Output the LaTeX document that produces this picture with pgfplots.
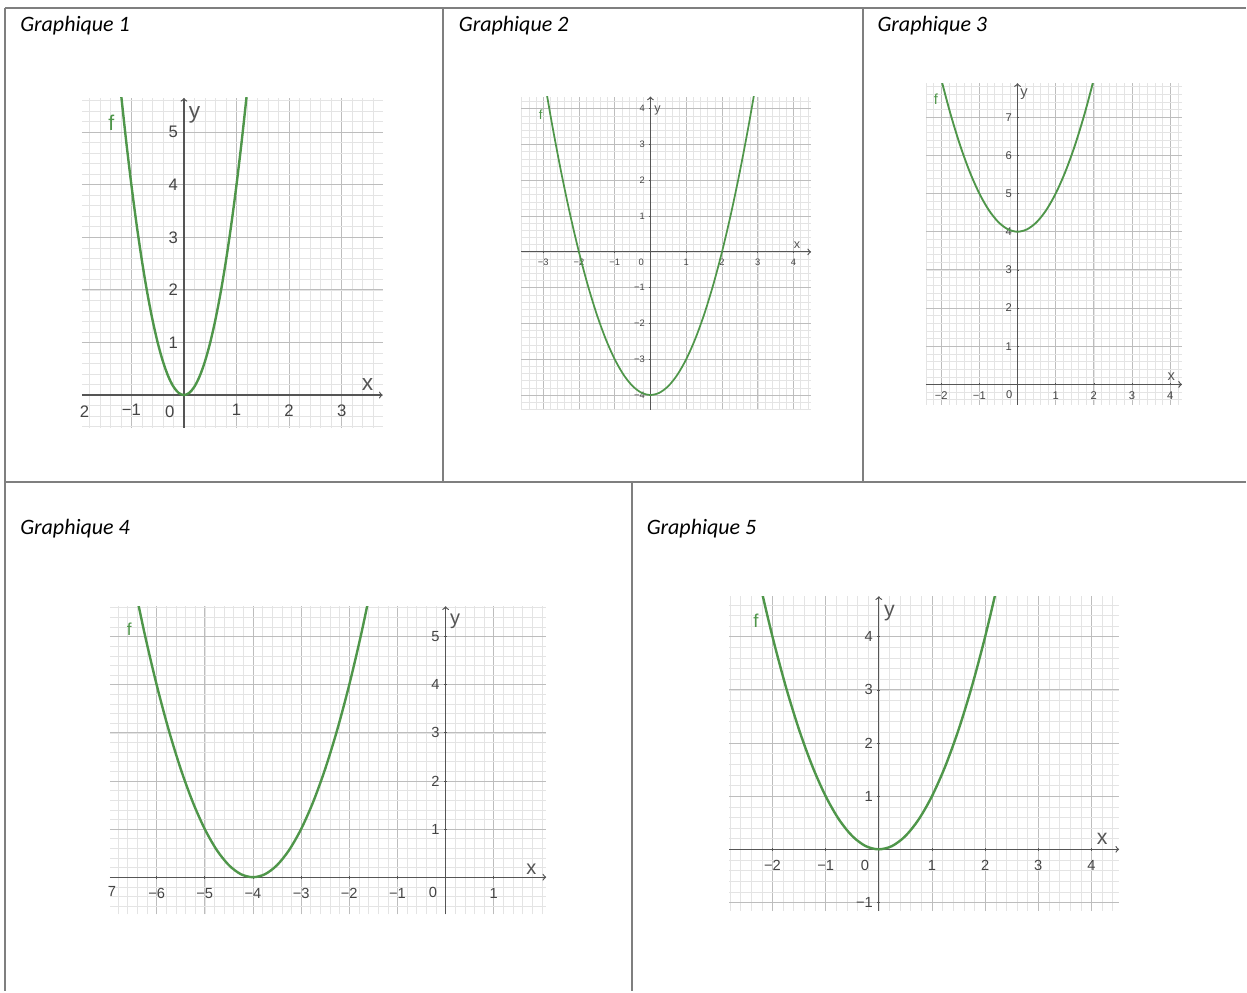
\documentclass[border=0pt]{standalone}
\usepackage{pgfplots}
\pgfplotsset{compat=1.18}
\usepackage{fontspec}
\setmainfont{Carlito}
\newfontfamily\geo{Liberation Sans}

\definecolor{tabline}{HTML}{7F7F7F}
\definecolor{axgray}{HTML}{555555}
\definecolor{majgray}{HTML}{BDBDBD}
\definecolor{mingray}{HTML}{E4E4E4}
\definecolor{lblgray}{HTML}{444444}
\definecolor{fgreen}{HTML}{4F964A}

\pgfplotsset{
  gg/.style={
    scale only axis, anchor=south west,
    axis lines=middle, enlargelimits=false,
    axis line style={draw=axgray, line width=0.9pt, ->},
    grid=both,
    major grid style={draw=majgray, line width=0.6pt},
    minor grid style={draw=mingray, line width=0.4pt},
    tick style={draw=axgray, line width=0.5pt},
    major tick length=2pt, minor tick length=0pt,
    ticklabel style={text=lblgray},
    clip mode=individual,
  },
  curve/.style={fgreen, line width=1.8pt, smooth, no marks},
}

\begin{document}
\begin{tikzpicture}
\path (0,0) rectangle (935.25pt,744pt);

% table
\draw[tabline, line width=1.5pt] (3.75pt,738pt) -- (935.25pt,738pt);
\draw[tabline, line width=1.5pt] (3.75pt,738pt) -- (3.75pt,0pt);
\draw[tabline, line width=1.5pt] (3.75pt,382.5pt) -- (935.25pt,382.5pt);
\draw[tabline, line width=1.5pt] (332.25pt,738pt) -- (332.25pt,382.5pt);
\draw[tabline, line width=1.5pt] (648pt,738pt) -- (648pt,382.5pt);
\draw[tabline, line width=1.5pt] (474pt,382.5pt) -- (474pt,0pt);

\begin{scope}[font=\fontsize{16.5}{19}\selectfont\itshape]
\node[anchor=base west, inner sep=0pt] at (15pt,720.5pt) {Graphique 1};
\node[anchor=base west, inner sep=0pt] at (344.25pt,720.5pt) {Graphique 2};
\node[anchor=base west, inner sep=0pt] at (658.5pt,720.5pt) {Graphique 3};
\node[anchor=base west, inner sep=0pt] at (15pt,343pt) {Graphique 4};
\node[anchor=base west, inner sep=0pt] at (485.25pt,343pt) {Graphique 5};
\end{scope}

% Graphique 1
\begin{axis}[gg, at={(61.5pt,423pt)}, width=225.75pt, height=247.5pt,
  xmin=-1.94, xmax=3.78, ymin=-0.62, ymax=5.65,
  xtick={-1,1,2,3}, xticklabels={−1,1,2,3},
  ytick={1,2,3,4,5}, yticklabels={1,2,3,4,5},
  minor xtick={-1.8,-1.6,...,3.7}, minor ytick={-0.6,-0.4,...,5.6},
  ticklabel style={font=\fontsize{12.5}{14}\geo},
  xticklabel style={yshift=-2.5pt}]
\addplot[curve] coordinates {
  (-1.2,5.76) (-1.1,4.84) (-1.0,4) (-0.9,3.24) (-0.8,2.56) (-0.7,1.96)
  (-0.6,1.44) (-0.5,1) (-0.4,0.64) (-0.3,0.36) (-0.2,0.16) (-0.1,0.04) (0,0)
  (0.1,0.04) (0.2,0.16) (0.3,0.36) (0.4,0.64) (0.5,1) (0.6,1.44) (0.7,1.96)
  (0.8,2.56) (0.9,3.24) (1.0,4) (1.1,4.84) (1.2,5.76)};
\node[text=fgreen, font=\fontsize{16}{18}\geo] at (axis cs:-1.38,5.17) {f};
\node[text=axgray, font=\fontsize{17}{19}\geo] at (axis cs:0.2,5.33) {y};
\node[text=axgray, font=\fontsize{17}{19}\geo] at (axis cs:3.49,0.2) {x};
\node[text=lblgray, font=\fontsize{12.5}{14}\geo] at (axis cs:-0.27,-0.31) {0};
\node[text=lblgray, font=\fontsize{12.5}{14}\geo] at (axis cs:-1.89,-0.31) {2};
\end{axis}

% Graphique 2
\begin{axis}[gg, at={(391.3pt,436.5pt)}, width=217.5pt, height=235pt,
  xmin=-3.61, xmax=4.49, ymin=-4.41, ymax=4.34,
  xtick={-3,-2,-1,1,2,3,4}, xticklabels={−3,−2,−1,1,2,3,4},
  ytick={-4,-3,-2,-1,1,2,3,4}, yticklabels={−4,−3,−2,−1,1,2,3,4},
  minor xtick={-3.6,-3.4,...,4.5}, minor ytick={-4.4,-4.2,...,4.3},
  major tick length=1.5pt,
  ticklabel style={font=\fontsize{7}{8}\geo},
  xticklabel style={yshift=-1pt}]
\addplot[curve, line width=1.3pt] coordinates {
  (-3,5) (-2.75,3.5625) (-2.5,2.25) (-2.25,1.0625) (-2,0) (-1.75,-0.9375)
  (-1.5,-1.75) (-1.25,-2.4375) (-1,-3) (-0.75,-3.4375) (-0.5,-3.75)
  (-0.25,-3.9375) (0,-4) (0.25,-3.9375) (0.5,-3.75) (0.75,-3.4375) (1,-3)
  (1.25,-2.4375) (1.5,-1.75) (1.75,-0.9375) (2,0) (2.25,1.0625) (2.5,2.25)
  (2.75,3.5625) (3,5)};
\node[text=fgreen, font=\fontsize{10}{11}\geo] at (axis cs:-3.07,3.83) {f};
\node[text=axgray, font=\fontsize{9.5}{10}\geo] at (axis cs:0.2,3.95) {y};
\node[text=axgray, font=\fontsize{9.5}{10}\geo] at (axis cs:4.1,0.2) {x};
\node[text=lblgray, font=\fontsize{7}{8}\geo] at (axis cs:-0.26,-0.29) {0};
\end{axis}

% Graphique 3
\begin{axis}[gg, at={(695pt,440.25pt)}, width=192.2pt, height=241.3pt,
  xmin=-2.40, xmax=4.31, ymin=-0.53, ymax=7.89,
  xtick={-2,-1,1,2,3,4}, xticklabels={−2,−1,1,2,3,4},
  ytick={1,...,7}, yticklabels={1,2,3,4,5,6,7},
  minor xtick={-2.4,-2.2,...,4.3}, minor ytick={-0.4,-0.2,...,7.8},
  major tick length=1.5pt,
  ticklabel style={font=\fontsize{8.4}{10}\geo},
  xticklabel style={yshift=-1pt}]
\addplot[curve, line width=1.4pt] coordinates {
  (-2.25,9.0625) (-2,8) (-1.75,7.0625) (-1.5,6.25) (-1.25,5.5625) (-1,5)
  (-0.75,4.5625) (-0.5,4.25) (-0.25,4.0625) (0,4) (0.25,4.0625) (0.5,4.25)
  (0.75,4.5625) (1,5) (1.25,5.5625) (1.5,6.25) (1.75,7.0625) (2,8) (2.25,9.0625)};
\node[text=fgreen, font=\fontsize{11}{12}\geo] at (axis cs:-2.14,7.46) {f};
\node[text=axgray, font=\fontsize{11}{12}\geo] at (axis cs:0.17,7.59) {y};
\node[text=axgray, font=\fontsize{11}{12}\geo] at (axis cs:4.03,0.21) {x};
\node[text=lblgray, font=\fontsize{8.4}{10}\geo] at (axis cs:-0.22,-0.27) {0};
\end{axis}

% Graphique 4
\begin{axis}[gg, at={(82.5pt,57.75pt)}, width=327.5pt, height=231.2pt,
  xmin=-6.97, xmax=2.09, ymin=-0.77, ymax=5.63,
  xtick={-6,-5,-4,-3,-2,-1,1}, xticklabels={−6,−5,−4,−3,−2,−1,1},
  ytick={1,...,5}, yticklabels={1,2,3,4,5},
  minor xtick={-6.8,-6.6,...,2}, minor ytick={-0.6,-0.4,...,5.6},
  ticklabel style={font=\fontsize{11}{12}\geo},
  xticklabel style={yshift=-4pt}]
\addplot[curve] coordinates {
  (-6.5,6.25) (-6.25,5.0625) (-6,4) (-5.75,3.0625) (-5.5,2.25) (-5.25,1.5625)
  (-5,1) (-4.75,0.5625) (-4.5,0.25) (-4.25,0.0625) (-4,0) (-3.75,0.0625)
  (-3.5,0.25) (-3.25,0.5625) (-3,1) (-2.75,1.5625) (-2.5,2.25) (-2.25,3.0625)
  (-2,4) (-1.75,5.0625) (-1.5,6.25)};
\node[text=fgreen, font=\fontsize{13}{15}\geo] at (axis cs:-6.57,5.16) {f};
\node[text=axgray, font=\fontsize{15}{17}\geo] at (axis cs:0.2,5.32) {y};
\node[text=axgray, font=\fontsize{15}{17}\geo] at (axis cs:1.78,0.16) {x};
\node[text=lblgray, font=\fontsize{11}{12}\geo] at (axis cs:-0.26,-0.31) {0};
\node[text=lblgray, font=\fontsize{11}{12}\geo] at (axis cs:-6.93,-0.29) {7};
\end{axis}

% Graphique 5
\begin{axis}[gg, at={(547.5pt,60.2pt)}, width=292.5pt, height=236.25pt,
  xmin=-2.81, xmax=4.52, ymin=-1.16, ymax=4.76,
  xtick={-2,-1,1,2,3,4}, xticklabels={−2,−1,1,2,3,4},
  ytick={-1,1,2,3,4}, yticklabels={−1,1,2,3,4},
  minor xtick={-2.8,-2.6,...,4.5}, minor ytick={-1.0,-0.8,...,4.7},
  ticklabel style={font=\fontsize{11}{12}\geo},
  xticklabel style={yshift=-4pt}]
\addplot[curve] coordinates {
  (-2.5,6.25) (-2.25,5.0625) (-2,4) (-1.75,3.0625) (-1.5,2.25) (-1.25,1.5625)
  (-1,1) (-0.75,0.5625) (-0.5,0.25) (-0.25,0.0625) (0,0) (0.25,0.0625)
  (0.5,0.25) (0.75,0.5625) (1,1) (1.25,1.5625) (1.5,2.25) (1.75,3.0625)
  (2,4) (2.25,5.0625) (2.5,6.25)};
\node[text=fgreen, font=\fontsize{14}{16}\geo] at (axis cs:-2.31,4.29) {f};
\node[text=axgray, font=\fontsize{16}{18}\geo] at (axis cs:0.2,4.45) {y};
\node[text=axgray, font=\fontsize{16}{18}\geo] at (axis cs:4.2,0.19) {x};
\node[text=lblgray, font=\fontsize{11}{12}\geo] at (axis cs:-0.26,-0.30) {0};
\end{axis}
\end{tikzpicture}
\end{document}
